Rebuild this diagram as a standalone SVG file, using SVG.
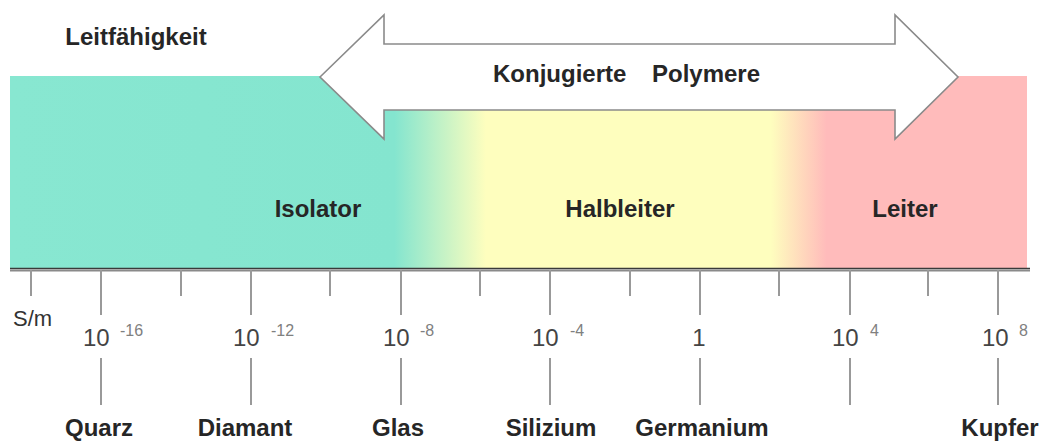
<svg xmlns="http://www.w3.org/2000/svg" width="1043" height="441" viewBox="0 0 1043 441">
<defs>
<linearGradient id="cond" x1="10" y1="0" x2="1027" y2="0" gradientUnits="userSpaceOnUse">
<stop offset="0" stop-color="#88E7D1"/>
<stop offset="0.378" stop-color="#84E5CF"/>
<stop offset="0.468" stop-color="#FEFEBE"/>
<stop offset="0.748" stop-color="#FEFEBE"/>
<stop offset="0.803" stop-color="#FFBBBB"/>
<stop offset="1" stop-color="#FFBBBB"/>
</linearGradient>
<style>
.t{font-family:"Liberation Sans",Arial,sans-serif;}
.b{font-weight:bold;font-size:24px;fill:#262626;text-anchor:middle;}
.num{font-size:24px;fill:#444;}
.exp{font-size:16px;fill:#808080;}
.tick{stroke:#999;stroke-width:2;}
</style>
</defs>
<rect width="1043" height="441" fill="#ffffff"/>
<g id="bar">
<rect x="10" y="76" width="1017" height="192" fill="url(#cond)"/>
</g>
<g id="arrow">
<polygon points="320,77 384,15 384,44 895,44 895,15 958,77 895,139 895,110 384,110 384,139" fill="#ffffff" stroke="#8a8a8a" stroke-width="1.6" stroke-linejoin="miter"/>
<text class="t b" x="493" y="82" style="text-anchor:start">Konjugierte</text>
<text class="t b" x="652" y="82" style="text-anchor:start">Polymere</text>
</g>
<g id="title">
<text class="t b" x="136" y="45">Leitfähigkeit</text>
</g>
<g id="regions">
<text class="t b" x="318" y="217">Isolator</text>
<text class="t b" x="620" y="217">Halbleiter</text>
<text class="t b" x="905" y="217">Leiter</text>
</g>
<g id="connectors">
<line x1="10" y1="268.5" x2="1030" y2="268.5" stroke="#3a3a3a" stroke-width="1.5"/>
<line x1="10" y1="270.5" x2="1030" y2="270.5" stroke="#8a8a8a" stroke-width="2"/>
<g class="tick">
<line x1="31" y1="270" x2="31" y2="296"/>
<line x1="181" y1="270" x2="181" y2="296"/>
<line x1="330" y1="270" x2="330" y2="296"/>
<line x1="480" y1="270" x2="480" y2="296"/>
<line x1="630" y1="270" x2="630" y2="296"/>
<line x1="779" y1="270" x2="779" y2="296"/>
<line x1="928" y1="270" x2="928" y2="296"/>
<line x1="101" y1="270" x2="101" y2="315"/>
<line x1="251" y1="270" x2="251" y2="315"/>
<line x1="401" y1="270" x2="401" y2="315"/>
<line x1="550" y1="270" x2="550" y2="315"/>
<line x1="700" y1="270" x2="700" y2="315"/>
<line x1="850" y1="270" x2="850" y2="315"/>
<line x1="998" y1="270" x2="998" y2="315"/>
<line x1="101" y1="358" x2="101" y2="405"/>
<line x1="251" y1="358" x2="251" y2="405"/>
<line x1="401" y1="358" x2="401" y2="405"/>
<line x1="550" y1="358" x2="550" y2="405"/>
<line x1="700" y1="358" x2="700" y2="405"/>
<line x1="850" y1="358" x2="850" y2="405"/>
<line x1="998" y1="358" x2="998" y2="405"/>
</g>
</g>
<g id="scale">
<text class="t" x="13" y="326" style="font-size:22px;fill:#333">S/m</text>
<text class="t num" x="83" y="346">10<tspan class="exp" x="120" y="336">-16</tspan></text>
<text class="t num" x="233" y="346">10<tspan class="exp" x="271" y="336">-12</tspan></text>
<text class="t num" x="383" y="346">10<tspan class="exp" x="420" y="336">-8</tspan></text>
<text class="t num" x="532" y="346">10<tspan class="exp" x="570" y="336">-4</tspan></text>
<text class="t num" x="699" y="346" style="text-anchor:middle">1</text>
<text class="t num" x="832" y="346">10<tspan class="exp" x="870" y="336">4</tspan></text>
<text class="t num" x="982" y="346">10<tspan class="exp" x="1019" y="336">8</tspan></text>
</g>
<g id="materials">
<text class="t b" x="99" y="436">Quarz</text>
<text class="t b" x="245" y="436">Diamant</text>
<text class="t b" x="398" y="436">Glas</text>
<text class="t b" x="551" y="436">Silizium</text>
<text class="t b" x="702" y="436">Germanium</text>
<text class="t b" x="1000" y="436">Kupfer</text>
</g>
</svg>
